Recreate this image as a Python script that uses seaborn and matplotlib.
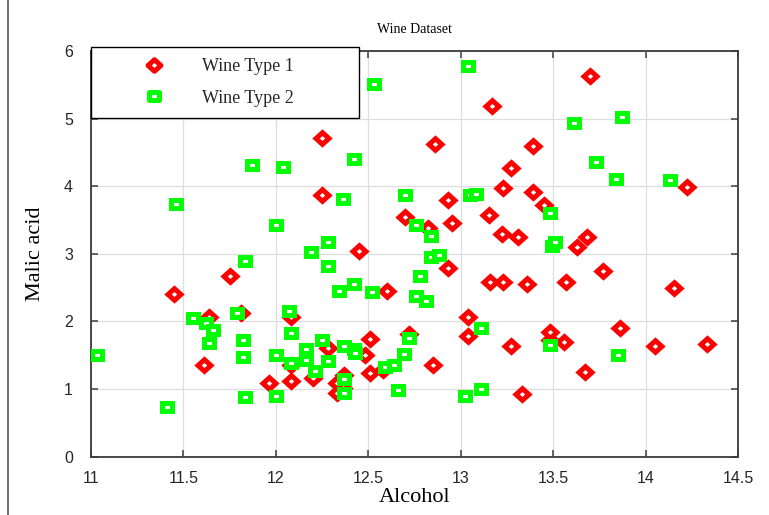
import matplotlib
matplotlib.use("Agg")
import matplotlib.pyplot as plt
import seaborn as sns
import pandas as pd
from matplotlib.path import Path
from matplotlib.lines import Line2D
from matplotlib.markers import MarkerStyle

# ---------------- data ----------------
type1_alcohol = [11.45, 11.61, 11.64, 11.75, 11.81, 11.96, 12.08, 12.08, 12.08, 12.20,
                 12.25, 12.25, 12.28, 12.33, 12.33, 12.37, 12.36, 12.45, 12.48, 12.51,
                 12.51, 12.58, 12.60, 12.70, 12.72, 12.82, 12.85, 12.86, 12.93, 12.93,
                 12.95, 13.04, 13.04, 13.15, 13.16, 13.17, 13.22, 13.23, 13.23, 13.27,
                 13.27, 13.31, 13.33, 13.36, 13.39, 13.39, 13.45, 13.48, 13.48, 13.57,
                 13.56, 13.63, 13.67, 13.68, 13.70, 13.77, 13.86, 14.05, 14.15, 14.22,
                 14.33]
type1_malic = [2.40, 1.36, 2.07, 2.67, 2.12, 1.09, 2.07, 1.12, 1.36, 1.16,
               4.71, 3.87, 1.61, 1.09, 0.94, 1.21, 1.02, 3.04, 1.51, 1.74,
               1.24, 1.28, 2.45, 3.54, 1.82, 3.38, 1.36, 4.62, 3.79, 2.79,
               3.45, 2.06, 1.79, 3.57, 2.59, 5.19, 3.30, 3.97, 2.59, 4.27,
               1.63, 3.25, 0.93, 2.55, 4.59, 3.92, 3.72, 1.72, 1.84, 2.58,
               1.70, 3.10, 1.25, 3.25, 5.63, 2.75, 1.90, 1.63, 2.50, 3.99,
               1.67]

type2_alcohol = [11.03, 11.41, 11.46, 11.55, 11.62, 11.66, 11.64, 11.79, 11.82, 11.82,
                 11.83, 11.83, 11.87, 12.00, 12.00, 12.00, 12.04, 12.07, 12.08, 12.08,
                 12.16, 12.16, 12.19, 12.21, 12.25, 12.28, 12.28, 12.28, 12.34, 12.36,
                 12.37, 12.37, 12.37, 12.42, 12.42, 12.42, 12.43, 12.52, 12.53, 12.59,
                 12.64, 12.66, 12.69, 12.70, 12.72, 12.76, 12.76, 12.78, 12.81, 12.84,
                 12.84, 12.88, 13.02, 13.04, 13.05, 13.08, 13.11, 13.11, 13.48, 13.49,
                 13.51, 13.48, 13.61, 13.73, 13.84, 13.85, 13.87, 14.13]
type2_malic = [1.50, 0.73, 3.74, 2.05, 1.97, 1.88, 1.68, 2.12, 1.73, 1.48,
               2.90, 0.88, 4.32, 3.42, 1.50, 0.90, 4.29, 2.15, 1.83, 1.38,
               1.60, 1.43, 3.03, 1.27, 1.73, 3.17, 2.82, 1.41, 2.45, 3.81,
               1.63, 1.15, 0.94, 4.41, 2.55, 1.59, 1.53, 2.43, 5.51, 1.32,
               1.36, 0.98, 1.52, 3.87, 1.75, 2.38, 3.42, 2.67, 2.30, 3.27,
               2.95, 2.99, 0.90, 5.78, 3.87, 3.89, 1.90, 1.00, 3.60, 3.12,
               3.17, 1.65, 4.93, 4.36, 4.11, 1.50, 5.03, 4.09]

series_labels = ["Wine Type 1", "Wine Type 2"]
x_ticks = [11, 11.5, 12, 12.5, 13, 13.5, 14, 14.5]
x_tick_labels = ["11", "11.5", "12", "12.5", "13", "13.5", "14", "14.5"]
y_ticks = [0, 1, 2, 3, 4, 5, 6]

df1 = pd.DataFrame({"Alcohol": type1_alcohol, "Malic acid": type1_malic})
df2 = pd.DataFrame({"Alcohol": type2_alcohol, "Malic acid": type2_malic})

# ---------------- styling ----------------
sns.set_theme(style="whitegrid")
serif = ["Liberation Serif", "DejaVu Serif"]
sans = ["Liberation Sans", "DejaVu Sans"]

RED = "#ff0000"
GREEN = "#00ff00"
DARK = "#262626"

diamond_path = Path([(0.5, 0), (0, 0.45), (-0.5, 0), (0, -0.45), (0.5, 0)],
                    [Path.MOVETO, Path.LINETO, Path.LINETO, Path.LINETO, Path.CLOSEPOLY])
rect_path = Path([(-0.5, -0.36), (0.5, -0.36), (0.5, 0.36), (-0.5, 0.36), (-0.5, -0.36)],
                 [Path.MOVETO, Path.LINETO, Path.LINETO, Path.LINETO, Path.CLOSEPOLY])
diamond = MarkerStyle(diamond_path, joinstyle="miter")
rect = MarkerStyle(rect_path, joinstyle="miter")

D_MS, R_MS, MEW = 9.3, 7.2, 3.6

fig = plt.figure(figsize=(7.69, 5.15), dpi=100)
ax = fig.add_axes([91 / 769, 1 - 456.7 / 515, (738.3 - 91) / 769, (456.7 - 51) / 515])

sns.scatterplot(data=df1, x="Alcohol", y="Malic acid", ax=ax, marker=diamond, s=D_MS ** 2,
                color="white", edgecolor=RED, linewidth=MEW, joinstyle="miter",
                zorder=3, legend=False)
sns.scatterplot(data=df2, x="Alcohol", y="Malic acid", ax=ax, marker=rect, s=R_MS ** 2,
                color="white", edgecolor=GREEN, linewidth=MEW, joinstyle="miter",
                zorder=4, legend=False)

ax.set_xlim(11, 14.5)
ax.set_ylim(0, 6)
ax.set_xticks(x_ticks)
ax.set_xticklabels(x_tick_labels)
ax.set_yticks(y_ticks)

ax.grid(True, color="#dedede", linewidth=0.9)
ax.set_axisbelow(True)
for sp in ax.spines.values():
    sp.set_visible(True)
    sp.set_color("#3c3c3c")
    sp.set_linewidth(1.3)

ax.tick_params(axis="both", which="both", direction="in", top=True, right=True,
               bottom=True, left=True, length=5, width=1.1, color="#3c3c3c",
               labelcolor=DARK, labelsize=11.5)
ax.tick_params(axis="x", pad=10)
ax.tick_params(axis="y", pad=13)
for lab in ax.get_xticklabels() + ax.get_yticklabels():
    lab.set_family(sans)

ax.set_xlabel("Alcohol", family=serif, fontsize=16, color="black", labelpad=2)
ax.set_ylabel("Malic acid", family=serif, fontsize=16, color="black", labelpad=14)
ax.set_title("Wine Dataset", family=serif, fontsize=10, color="black", pad=13)

handles = [
    Line2D([], [], linestyle="none", marker=diamond, markersize=D_MS,
           markerfacecolor="white", markeredgecolor=RED, markeredgewidth=MEW),
    Line2D([], [], linestyle="none", marker=rect, markersize=R_MS,
           markerfacecolor="white", markeredgecolor=GREEN, markeredgewidth=MEW),
]
leg = ax.legend(handles, series_labels, loc="upper left",
                bbox_to_anchor=(0, 1.01, 268 / 647.3, 0), mode="expand",
                borderaxespad=0, borderpad=0.62, handlelength=5.7, handletextpad=-0.15,
                labelspacing=0.8, fancybox=False, framealpha=1, edgecolor="black",
                prop={"family": serif, "size": 13})
leg.get_frame().set_linewidth(1.0)
leg.set_zorder(10)

# outer frame line on the left side of the figure
fig.add_artist(Line2D([8 / 769, 8 / 769], [0, 1], transform=fig.transFigure,
                      color="#555555", linewidth=1.2))

fig.savefig("out.png", dpi=100)
